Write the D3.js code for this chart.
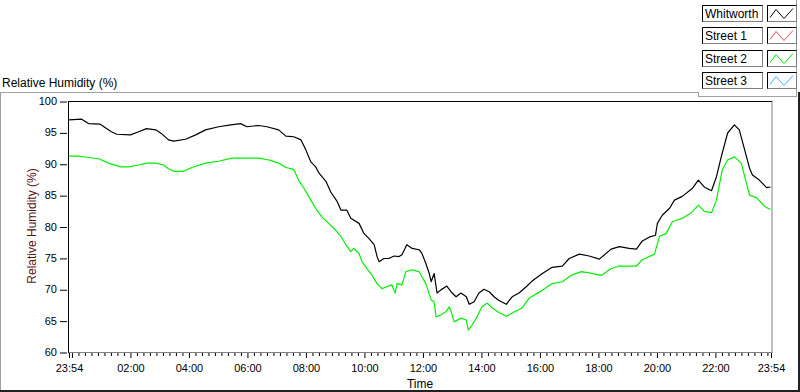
<!DOCTYPE html>
<html>
<head>
<meta charset="utf-8">
<script src="https://cdn.jsdelivr.net/npm/d3@7"></script>
<style>
  html, body { margin: 0; padding: 0; background: #fff; }
  svg { display: block; font-family: "Liberation Sans", Arial, sans-serif; }
</style>
</head>
<body>
<div id="chart"></div>
<script>
// series names shown in the legend
const seriesNames = ["Whitworth", "Street 1", "Street 2", "Street 3"];
const seriesColors = ["#000000", "#ff4a4a", "#00f000", "#3cb4ff"];

// Whitworth (black) - clock times + RH %
const whitworthTimes = ["23:54","00:21","00:35","00:59","01:22","01:33","02:01","02:18","02:34","02:53",
  "03:05","03:19","03:30","03:54","04:15","04:35","05:02","05:27","05:47","06:00",
  "06:24","06:41","07:05","07:20","07:36","07:51","08:01","08:11","08:21","08:28",
  "08:42","08:52","09:05","09:13","09:25","09:33","09:50","10:00","10:10","10:21",
  "10:27","10:31","10:41","10:51","11:02","11:12","11:18","11:28","11:39","11:53",
  "11:59","12:07","12:14","12:18","12:24","12:30","12:38","12:50","13:01","13:09",
  "13:19","13:30","13:36","13:46","13:56","14:06","14:17","14:27","14:37","14:52",
  "15:04","15:18","15:33","15:45","16:06","16:26","16:47","17:01","17:22","17:42",
  "18:03","18:27","18:44","19:04","19:19","19:31","19:45","19:58","20:02","20:12",
  "20:27","20:37","20:53","21:14","21:26","21:38","21:53","22:03","22:13","22:26",
  "22:40","22:50","23:01","23:11","23:17","23:31","23:46","23:54"];
const whitworthValues = [97.0,97.1,96.4,96.3,95.1,94.7,94.6,95.1,95.6,95.4,
  94.8,93.8,93.6,93.9,94.6,95.4,95.9,96.2,96.4,95.9,
  96.1,95.9,95.4,94.4,94.3,93.8,92.2,90.3,89.5,88.5,
  87.2,85.5,84.0,82.6,82.6,81.3,80.5,78.9,78.1,77.1,
  75.2,74.4,74.9,74.9,75.3,75.2,75.5,77.1,76.5,76.3,
  75.7,74.1,72.5,71.2,72.5,69.4,69.9,70.5,69.4,68.8,
  69.4,68.8,67.6,68.0,69.4,70.0,69.6,68.8,68.2,67.6,
  68.8,69.4,70.4,71.3,72.5,73.5,73.7,74.9,75.6,75.3,
  74.8,76.4,76.8,76.5,76.4,77.7,78.3,78.6,80.5,81.8,
  82.9,84.2,84.8,86.1,87.4,86.3,85.7,87.9,91.1,94.9,
  96.2,95.4,92.2,89.3,88.2,87.4,86.2,86.3];

// Street 2 (green)
const street2Times = ["23:54","00:14","00:35","00:56","01:16","01:41","01:57","02:18","02:34","02:53",
  "03:09","03:19","03:30","03:50","04:07","04:35","05:02","05:29","05:58","06:24",
  "06:45","07:05","07:20","07:36","07:46","07:57","08:11","08:21","08:34","08:48",
  "09:02","09:13","09:23","09:33","09:39","09:50","09:56","10:06","10:16","10:27",
  "10:37","10:47","10:57","11:04","11:08","11:18","11:26","11:39","11:53","11:59",
  "12:07","12:18","12:24","12:28","12:38","12:48","12:55","12:59","13:05","13:19",
  "13:30","13:34","13:42","13:52","14:02","14:13","14:23","14:37","14:52","15:04",
  "15:24","15:39","15:59","16:26","16:47","17:07","17:26","17:42","18:07","18:27",
  "18:44","19:19","19:31","19:56","20:06","20:20","20:33","20:53","21:12","21:26",
  "21:38","21:53","22:03","22:15","22:26","22:40","22:54","23:11","23:25","23:42","23:54"];
const street2Values = [91.2,91.2,91.0,90.8,90.1,89.5,89.5,89.8,90.1,90.1,
  89.8,89.2,88.8,88.8,89.4,90.1,90.4,90.9,90.9,90.9,
  90.6,90.1,89.4,89.1,87.4,86.1,84.2,82.9,81.5,80.5,
  79.4,78.4,77.1,76.0,76.5,75.7,74.4,73.3,72.3,70.9,
  70.1,70.4,70.7,69.4,70.9,70.7,72.8,73.1,72.8,72.0,
  70.9,68.3,68.0,65.6,65.9,66.4,67.2,66.4,64.8,65.4,
  65.1,63.5,64.3,65.6,67.2,67.8,67.0,66.3,65.7,66.2,
  67.0,68.6,69.5,70.9,71.2,72.3,72.8,72.6,72.2,73.3,
  73.7,73.7,74.7,75.6,78.4,78.9,80.8,81.3,82.2,83.4,
  82.4,82.2,84.2,89.0,90.6,91.1,90.1,85.0,84.6,83.2,82.7];

// Street 1 and Street 3 have no trace drawn
const street1Times = [], street1Values = [];
const street3Times = [], street3Values = [];

const yTicks = [60, 65, 70, 75, 80, 85, 90, 95, 100];
const xLabelTimes = ["02:00","04:00","06:00","08:00","10:00","12:00","14:00","16:00","18:00","20:00","22:00"];

const W = 800, H = 392;
const svg = d3.select("#chart").append("svg").attr("width", W).attr("height", H);

const start = new Date(2020, 0, 1, 23, 54);
const end = new Date(2020, 0, 2, 23, 54);
function toDate(s, i) {
  if (i === 0) return start;
  const [h, m] = s.split(":").map(Number);
  return new Date(2020, 0, 2, h, m);
}

const x = d3.scaleTime().domain([start, end]).range([68.5, 770.5]);
const y = d3.scaleLinear().domain([60, 100]).range([352, 101]);

// outer panel (sunken look)
svg.append("line").attr("x1", 0).attr("x2", 698).attr("y1", 92.5).attr("y2", 92.5).attr("stroke", "#a0a0a0");
svg.append("line").attr("x1", 0.5).attr("x2", 0.5).attr("y1", 92).attr("y2", 391).attr("stroke", "#a0a0a0");
svg.append("line").attr("x1", 0).attr("x2", 800).attr("y1", 391).attr("y2", 391).attr("stroke", "#202020").attr("stroke-width", 2);
svg.append("line").attr("x1", 799).attr("x2", 799).attr("y1", 92).attr("y2", 392).attr("stroke", "#202020").attr("stroke-width", 2);

// chart title
svg.append("text").attr("x", 2).attr("y", 87).style("font-size", "12px").text("Relative Humidity (%)");

// plot frame
const plot = svg.append("g");
plot.append("rect").attr("x", 68.5).attr("y", 101.5).attr("width", 703.5).attr("height", 251)
  .attr("fill", "#fff").attr("stroke", "#808080");
plot.append("line").attr("x1", 68.5).attr("x2", 772).attr("y1", 101.5).attr("y2", 101.5).attr("stroke", "#000");
plot.append("line").attr("x1", 68.5).attr("x2", 68.5).attr("y1", 101).attr("y2", 353).attr("stroke", "#000");

// y axis
const yAxis = svg.append("g").attr("transform", "translate(67,0)")
  .call(d3.axisLeft(y).tickValues(yTicks).tickSize(7).tickPadding(3).tickFormat(d3.format("d")));
yAxis.select(".domain").remove();
yAxis.selectAll("line").attr("stroke", "#000").attr("transform", "translate(0,0.5)");
yAxis.selectAll("text").style("font-size", "11px").style("font-family", "Liberation Sans, Arial, sans-serif").attr("fill", "#000");

// x axis: major ticks every 2h, minor ticks 8 between majors
const majorDates = [start, new Date(2020, 0, 2, 0, 0)]
  .concat(xLabelTimes.map((s) => toDate(s, 1))).concat([end]);
const minorDates = [];
for (let i = 1; i < majorDates.length - 1; i++) {
  const a = majorDates[i];
  for (let k = 1; k <= 8; k++) {
    const d = new Date(+a + k * 120 * 60000 / 9);
    if (d < end) minorDates.push(d);
  }
}
const xMinor = svg.append("g").attr("transform", "translate(0.5,353)")
  .call(d3.axisBottom(x).tickValues(minorDates).tickSize(3).tickFormat(""));
xMinor.select(".domain").remove();
const xMajor = svg.append("g").attr("transform", "translate(0.5,353)")
  .call(d3.axisBottom(x).tickValues(majorDates).tickSize(5).tickPadding(6)
    .tickFormat((d, i) => (i === 1 ? "" : d3.timeFormat("%H:%M")(d))));
xMajor.select(".domain").remove();
xMajor.selectAll("text").style("font-size", "11px").style("font-family", "Liberation Sans, Arial, sans-serif").attr("fill", "#000");

// axis titles
svg.append("text").attr("x", 420).attr("y", 388).attr("text-anchor", "middle")
  .style("font-size", "12px").text("Time");
svg.append("text").attr("transform", "translate(36,226) rotate(-90)").attr("text-anchor", "middle")
  .style("font-size", "12px").attr("fill", "#5a1212").text("Relative Humidity (%)");

// traces
const line = d3.line().x((d) => x(d.t)).y((d) => y(d.v));
const series = [
  [whitworthTimes, whitworthValues],
  [street1Times, street1Values],
  [street2Times, street2Values],
  [street3Times, street3Values]
];
svg.append("clipPath").attr("id", "clip").append("rect")
  .attr("x", 69).attr("y", 102).attr("width", 703).attr("height", 250);
series.forEach(([ts, vs], i) => {
  if (!ts.length) return;
  const pts = ts.map((t, j) => ({ t: toDate(t, j), v: vs[j] }));
  svg.append("path").datum(pts).attr("clip-path", "url(#clip)")
    .attr("fill", "none").attr("stroke", seriesColors[i]).attr("stroke-width", 1.2)
    .attr("stroke-linejoin", "round")
    .attr("d", line);
});

// legend panel
svg.append("line").attr("x1", 698.5).attr("x2", 698.5).attr("y1", 92).attr("y2", 96.5).attr("stroke", "#a0a0a0");
svg.append("line").attr("x1", 698).attr("x2", 797).attr("y1", 96.5).attr("y2", 96.5).attr("stroke", "#a0a0a0");
svg.append("line").attr("x1", 796.5).attr("x2", 796.5).attr("y1", 0).attr("y2", 97).attr("stroke", "#a0a0a0");

const legend = svg.append("g");
seriesNames.forEach((name, i) => {
  const top = 4.5 + i * 22.6;
  const g = legend.append("g").attr("transform", `translate(0,${Math.round(top) + 0.5})`);
  // label box
  g.append("rect").attr("x", 702.5).attr("y", 0).attr("width", 60).attr("height", 16)
    .attr("fill", "#fff").attr("stroke", "#808080");
  g.append("path").attr("d", "M702.5,16V0H762.5").attr("fill", "none").attr("stroke", "#000");
  g.append("text").attr("x", 705).attr("y", 12.5).style("font-size", "12px").text(name);
  // swatch box
  g.append("rect").attr("x", 767.5).attr("y", 0).attr("width", 29).attr("height", 16)
    .attr("fill", "#fff").attr("stroke", "#808080");
  g.append("path").attr("d", "M767.5,16V0H796.5").attr("fill", "none").attr("stroke", "#000");
  g.append("path").attr("d", "M770,12L776,4L784,13L793,3")
    .attr("fill", "none").attr("stroke", seriesColors[i]).attr("stroke-width", 1);
});
</script>
</body>
</html>
